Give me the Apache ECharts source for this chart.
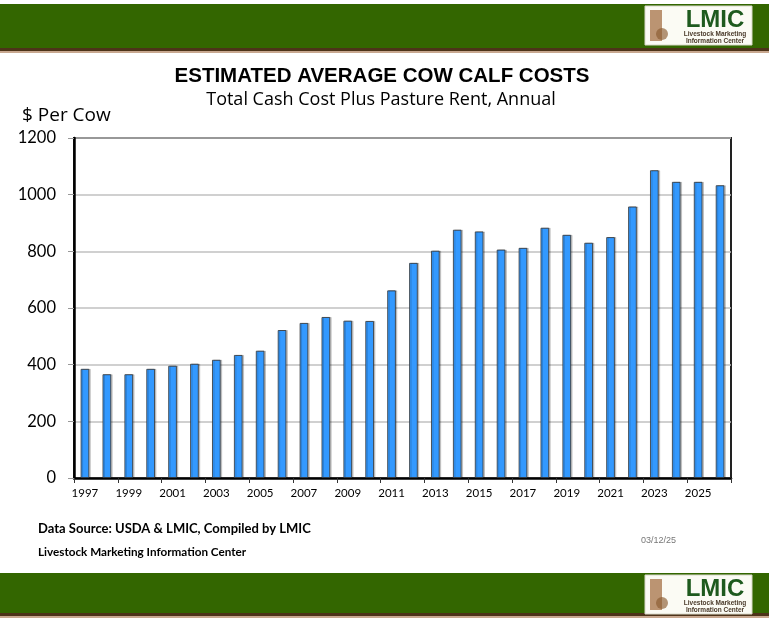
<!DOCTYPE html>
<html><head><meta charset="utf-8">
<script src="https://cdn.jsdelivr.net/npm/echarts@6/dist/echarts.min.js"></script>
<style>html,body{margin:0;padding:0;background:#fff}#c{width:769px;height:627px}</style>
</head><body><div id="c"></div>
<script>
var years = ['1997','1998','1999','2000','2001','2002','2003','2004','2005','2006','2007','2008','2009','2010','2011','2012','2013','2014','2015','2016','2017','2018','2019','2020','2021','2022','2023','2024','2025','2026'];
var costs = [385,366,366,385,396,403,417,434,449,522,547,568,555,554,662,759,802,876,870,806,812,883,858,830,850,958,1086,1045,1045,1033];
var yTicks = [0,200,400,600,800,1000,1200];
var titleText = 'ESTIMATED AVERAGE COW CALF COSTS';
var subtitleText = 'Total Cash Cost Plus Pasture Rent, Annual';
var yName = '$ Per Cow';
var sourceText = 'Data Source: USDA & LMIC, Compiled by LMIC';
var orgText = 'Livestock Marketing Information Center';
var dateText = '03/12/25';

function logo(y){
  return [
    {type:'rect', shape:{x:645,y:y,width:107,height:39}, style:{fill:'#fbfbf4',stroke:'#d8d8c8',lineWidth:1}},
    {type:'rect', shape:{x:650,y:y+4,width:12,height:31}, style:{fill:'#a0683a',opacity:0.7}},
    {type:'circle', shape:{cx:662,cy:y+28,r:6}, style:{fill:'#8a5a30',opacity:0.65}},
    {type:'text', style:{x:715,y:y+2,text:'LMIC',fill:'#1e5a1e',font:'bold 24px "Liberation Sans", Arial',textAlign:'center'}},
    {type:'text', style:{x:715,y:y+25,text:'Livestock Marketing',fill:'#4a3a2a',font:'bold 6.5px "Liberation Sans", Arial',textAlign:'center'}},
    {type:'text', style:{x:715,y:y+31.5,text:'Information Center',fill:'#4a3a2a',font:'bold 6.5px "Liberation Sans", Arial',textAlign:'center'}}
  ];
}
var graphics = [
  {type:'rect', shape:{x:0,y:4,width:769,height:44}, style:{fill:'#336600'}},
  {type:'rect', shape:{x:0,y:48,width:769,height:3}, style:{fill:'#4d3319'}},
  {type:'rect', shape:{x:0,y:51,width:769,height:2}, style:{fill:'#c8a890'}},
  {type:'rect', shape:{x:0,y:573,width:769,height:40}, style:{fill:'#336600'}},
  {type:'rect', shape:{x:0,y:613,width:769,height:3}, style:{fill:'#4d3319'}},
  {type:'rect', shape:{x:0,y:616,width:769,height:2}, style:{fill:'#c8a890'}},
  {type:'text', style:{x:382,y:66,text:titleText,fill:'#000',font:'bold 20.5px "Liberation Sans", Arial',textAlign:'center'}},
  {type:'text', style:{x:381,y:91,text:subtitleText,fill:'#000',font:'18px "Open Sans"',textAlign:'center'}},
  {type:'text', style:{x:22,y:106,text:yName,fill:'#000',font:'19px "Open Sans"'}},
  {type:'text', style:{x:38,y:522,text:sourceText,fill:'#000',font:'bold 13px Lato'}},
  {type:'text', style:{x:38,y:546,text:orgText,fill:'#000',font:'bold 11.7px Lato'}},
  {type:'text', style:{x:641,y:536,text:dateText,fill:'#777',font:'9px "Liberation Sans", Arial'}}
].concat(logo(6)).concat(logo(575));

var chart = echarts.init(document.getElementById('c'));
chart.setOption({
  animation:false,
  backgroundColor:'#fff',
  grid:{left:74,top:138,width:657,height:340,show:true,borderColor:'#222',borderWidth:2,backgroundColor:'transparent'},
  xAxis:{type:'category',data:years,
    axisLine:{lineStyle:{color:'#000',width:2.5}},
    axisTick:{show:true,length:5,lineStyle:{color:'#333'}},
    axisLabel:{interval:1,color:'#000',fontFamily:'Lato',fontSize:11.5,margin:9}},
  yAxis:{type:'value',min:0,max:1200,interval:200,
    axisLine:{show:true,lineStyle:{color:'#000',width:2.5}},
    axisTick:{show:true,length:6,lineStyle:{color:'#999'}},
    axisLabel:{color:'#000',fontFamily:'Lato',fontSize:16.5,margin:18,
      formatter:function(v){return yTicks.indexOf(v)>=0?String(v):'';}},
    splitLine:{lineStyle:{color:'#c0c0c0',width:1.5}}},
  series:[{type:'bar',data:costs,barWidth:'39%',
    itemStyle:{color:'#3399ff',borderColor:'#333',borderWidth:0.8,shadowColor:'rgba(0,0,0,0.2)',shadowOffsetX:1.5,shadowOffsetY:0,shadowBlur:0}}],
  graphic:graphics
});
</script></body></html>
